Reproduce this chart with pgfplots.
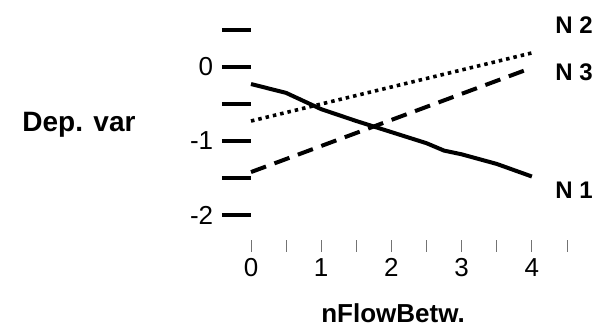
\documentclass[border=0pt]{standalone}
\usepackage{pgfplots}
\pgfplotsset{compat=1.18}
\usepackage{fontspec}
\setmainfont{Liberation Sans}
\begin{document}
\begin{tikzpicture}
\useasboundingbox (-251pt,-79pt) rectangle (355pt,252pt);
\begin{axis}[
  scale only axis,
  width=316pt, height=222pt,
  xmin=0, xmax=4.5, ymin=-2.5, ymax=0.5,
  axis line style={draw=none},
  clip=false,
  ytick pos=left, xtick pos=bottom,
  ytick={-2,-1.5,-1,-0.5,0,0.5},
  yticklabels={-2,,-1,,0,},
  xtick={0,0.5,1,1.5,2,2.5,3,3.5,4,4.5},
  xticklabels={0,,1,,2,,3,,4,},
  y tick style={line width=4pt, black, /pgfplots/major tick length=29pt},
  x tick style={line width=0.8pt, black!55, /pgfplots/major tick length=12pt},
  ytick align=outside,
  xtick align=inside,
  tick label style={font=\fontsize{26}{28}\selectfont},
  /pgf/number format/assume math mode=true,
  yticklabel style={xshift=-30pt},
  xticklabel style={yshift=-3pt},
]
\addplot[black, line width=4pt, line join=round] coordinates {
(0,-0.23) (0.5,-0.35) (1,-0.57) (1.5,-0.73) (2,-0.88) (2.5,-1.03) (2.75,-1.13) (3,-1.18) (3.5,-1.31) (4,-1.48)};
\addplot[black, line width=3.6pt, dash pattern=on 3.5pt off 4pt] coordinates {(0,-0.73) (4,0.19)};
\addplot[black, line width=4pt, dash pattern=on 16pt off 9pt] coordinates {(0,-1.42) (4,-0.01)};
\end{axis}
\node[font=\bfseries\fontsize{28}{30}\selectfont] at (79pt-251pt,252pt-125pt) {Dep. var};
\node[font=\bfseries\fontsize{26}{28}\selectfont] at (393pt-251pt,252pt-313pt) {nFlowBetw.};
\node[font=\bfseries\fontsize{24}{26}\selectfont] at (574pt-251pt,252pt-25pt) {N 2};
\node[font=\bfseries\fontsize{24}{26}\selectfont] at (574pt-251pt,252pt-72pt) {N 3};
\node[font=\bfseries\fontsize{24}{26}\selectfont] at (574pt-251pt,252pt-190pt) {N 1};
\end{tikzpicture}
\end{document}
